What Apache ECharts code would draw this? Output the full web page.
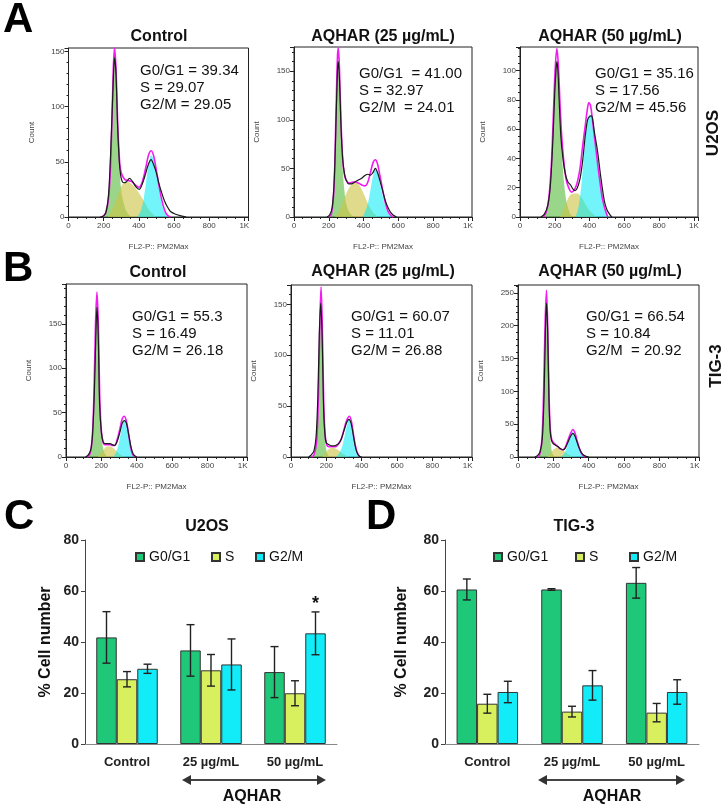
<!DOCTYPE html>
<html><head><meta charset="utf-8">
<script src="https://cdn.jsdelivr.net/npm/echarts@6/dist/echarts.min.js"></script>
<style>html,body{margin:0;padding:0;background:#fff}#c{width:724px;height:806px}</style>
</head><body><div id="c"></div>
<script>
// ---------- Histogram data (FL2-P channel, count) ----------
const histTitles = ['Control', 'AQHAR (25 µg/mL)', 'AQHAR (50 µg/mL)'];
const histStats = [
  ['G0/G1 = 39.34', 'S = 29.07', 'G2/M = 29.05'],
  ['G0/G1  = 41.00', 'S = 32.97', 'G2/M  = 24.01'],
  ['G0/G1 = 35.16', 'S = 17.56', 'G2/M = 45.56'],
  ['G0/G1 = 55.3', 'S = 16.49', 'G2/M = 26.18'],
  ['G0/G1 = 60.07', 'S = 11.01', 'G2/M = 26.88'],
  ['G0/G1 = 66.54', 'S = 10.84', 'G2/M  = 20.92']
];
const histYMax = [153, 175, 116, 195, 169, 262];
const histYStep = [50, 50, 20, 50, 50, 50];
const xTicks = ['0', '200', '400', '600', '800', '1K'];

// U2OS control
const u2osCtrlHist = [[180,0],[200,1],[215,5],[230,25],[245,80],[255,125],[262,144],[270,130],[280,80],[290,48],[300,35],[315,31],[330,32],[347,35],[365,32],[385,27],[403,25],[420,30],[440,40],[455,48],[470,52],[485,47],[500,40],[515,30],[530,22],[545,15],[560,10],[580,5],[610,2.5],[640,1],[670,0]];
const u2osCtrlFit = [[190,0],[210,3],[230,20],[245,75],[255,135],[262,153],[270,135],[280,85],[290,52],[300,40],[320,34],[340,33],[360,32],[380,29],[400,27],[420,32],[440,45],[455,56],[470,60],[485,55],[500,42],[515,28],[530,16],[545,7],[560,2],[580,0]];
const u2osCtrlG1 = [[200,0],[215,5],[230,25],[245,75],[255,125],[262,140],[270,125],[280,80],[290,45],[300,24],[315,12],[330,5],[350,1],[365,0]];
const u2osCtrlS = [[225,0],[245,6],[270,15],[290,24],[310,30],[330,32],[350,31],[370,28],[400,22],[430,14],[460,6],[490,1],[505,0]];
const u2osCtrlG2 = [[390,0],[410,5],[425,14],[440,30],[455,47],[470,56],[485,52],[500,40],[515,25],[530,13],[545,5],[560,1],[575,0]];
// U2OS 25 µg/mL
const u2os25Hist = [[190,0],[205,2],[220,10],[232,40],[242,100],[250,150],[255,160],[262,140],[270,95],[280,60],[290,45],[300,38],[315,34],[330,34],[350,36],[370,38],[390,40],[410,43],[425,44],[440,43],[455,46],[468,50],[480,46],[495,37],[510,27],[525,17],[540,10],[555,5],[570,2],[590,0]];
const u2os25Fit = [[200,0],[215,3],[230,30],[242,110],[250,165],[255,174],[262,150],[270,100],[280,60],[290,44],[300,38],[320,35],[340,36],[355,36],[370,35],[390,33],[410,32],[425,36],[440,46],[455,56],[468,59],[480,55],[495,42],[510,28],[525,15],[540,6],[555,2],[570,0]];
const u2os25G1 = [[205,0],[220,8],[232,35],[242,100],[250,150],[255,160],[262,140],[270,90],[280,50],[290,27],[300,14],[315,6],[330,2],[350,0]];
const u2os25S = [[235,0],[260,6],[280,15],[300,24],[320,31],[340,35],[355,36],[370,34],[390,28],[410,20],[430,12],[450,6],[470,2],[490,0]];
const u2os25G2 = [[395,0],[410,6],[425,14],[440,28],[455,43],[468,50],[480,46],[495,34],[510,22],[525,11],[540,4],[555,1],[565,0]];
// U2OS 50 µg/mL
const u2os50Hist = [[120,0],[140,2],[160,8],[175,22],[190,55],[200,85],[207,100],[212,106],[218,100],[225,80],[235,55],[247,40],[260,30],[275,24],[290,22],[305,19],[317,18],[330,20],[345,26],[360,38],[375,55],[388,66],[396,68],[408,69],[416,68],[428,58],[446,45],[465,27],[485,11],[500,5],[515,2],[528,0]];
const u2os50Fit = [[135,0],[150,3],[165,12],[180,35],[192,70],[202,100],[212,115],[220,105],[230,78],[240,55],[252,38],[265,26],[280,20],[297,17],[315,19],[330,24],[345,33],[360,48],[375,62],[388,74],[396,78],[406,76],[418,65],[430,53],[445,38],[460,24],[475,12],[490,5],[505,0]];
const u2os50G1 = [[140,0],[155,5],[170,18],[185,50],[198,85],[207,102],[212,106],[220,95],[230,70],[240,45],[252,25],[265,12],[280,5],[295,1],[310,0]];
const u2os50S = [[230,0],[250,5],[270,11],[290,15],[310,16],[330,16],[350,14],[370,10],[390,6],[410,3],[430,1],[445,0]];
const u2os50G2 = [[320,0],[335,6],[350,18],[365,38],[380,58],[392,68],[400,70],[410,68],[422,58],[435,45],[450,32],[465,20],[480,10],[495,3],[510,0]];
// TIG-3 control
const tigCtrlHist = [[110,0],[125,2],[140,8],[150,25],[160,70],[168,130],[175,169],[182,140],[190,60],[200,28],[210,17],[222,15],[235,15],[250,15],[262,14],[275,13],[290,18],[305,28],[318,38],[330,41],[342,38],[355,25],[365,14],[375,6],[385,2],[400,0]];
const tigCtrlFit = [[120,0],[135,3],[148,20],[158,70],[167,150],[175,186],[183,150],[190,75],[198,35],[208,18],[220,14],[235,14],[250,14],[262,13],[275,13],[290,20],[305,32],[318,43],[330,46],[342,40],[355,25],[365,12],[375,4],[388,0]];
const tigCtrlG1 = [[125,0],[140,5],[150,22],[160,70],[168,140],[175,169],[182,140],[190,65],[200,25],[212,8],[225,2],[240,0]];
const tigCtrlS = [[180,0],[200,5],[220,10],[240,12],[260,11],[280,8],[300,4],[320,1],[335,0]];
const tigCtrlG2 = [[265,0],[280,4],[295,12],[308,25],[320,37],[330,42],[340,38],[352,27],[362,15],[372,6],[382,1],[392,0]];
// TIG-3 25 µg/mL
const tig25Hist = [[100,0],[115,2],[130,6],[142,20],[152,60],[160,120],[168,151],[176,120],[184,50],[192,22],[200,14],[215,12],[230,11],[245,11],[260,12],[273,14],[285,18],[300,26],[315,34],[328,37],[340,33],[352,22],[362,12],[372,5],[385,1],[400,0]];
const tig25Fit = [[115,0],[130,2],[145,15],[155,60],[163,130],[170,167],[177,130],[185,55],[193,22],[202,12],[215,10],[230,10],[245,10],[260,11],[273,14],[285,18],[300,27],[315,36],[331,40],[343,34],[355,20],[367,9],[378,3],[390,0]];
const tig25G1 = [[120,0],[135,3],[147,18],[157,65],[165,135],[170,151],[177,125],[185,50],[193,18],[202,5],[215,1],[225,0]];
const tig25S = [[175,0],[195,4],[215,8],[235,9],[255,8],[275,6],[295,3],[315,1],[330,0]];
const tig25G2 = [[255,0],[270,3],[285,8],[300,18],[315,30],[330,37],[342,33],[354,21],[365,10],[375,4],[385,1],[395,0]];
// TIG-3 50 µg/mL
const tig50Hist = [[95,0],[110,2],[125,8],[138,30],[148,100],[155,190],[161,234],[168,190],[175,90],[182,40],[190,25],[200,20],[212,18],[225,16],[240,13],[255,11],[268,14],[282,22],[296,31],[310,36],[322,32],[335,22],[346,14],[358,7],[370,3],[385,1],[400,0]];
const tig50Fit = [[110,0],[122,3],[135,25],[145,100],[153,200],[161,254],[168,200],[175,100],[182,45],[190,27],[200,22],[212,19],[225,16],[240,12],[255,11],[268,15],[282,25],[296,35],[311,42],[323,36],[335,24],[346,14],[358,6],[370,2],[380,0]];
const tig50G1 = [[115,0],[128,6],[140,35],[148,110],[155,200],[161,234],[168,190],[175,90],[182,35],[190,10],[200,3],[212,0]];
const tig50S = [[165,0],[185,6],[205,12],[225,14],[245,12],[265,8],[285,4],[305,1],[320,0]];
const tig50G2 = [[240,0],[255,3],[270,10],[285,22],[298,33],[311,38],[323,34],[335,24],[346,14],[358,6],[370,2],[382,0]];

// ---------- Bar chart data (% cell number, mean ± error) ----------
const barCategories = ['Control', '25 µg/mL', '50 µg/mL'];
const phaseNames = ['G0/G1', 'S', 'G2/M'];
const u2osG1 = [41.8, 36.7, 28.2];  const u2osG1Err = [10.1, 10.1, 10.0];
const u2osS = [25.4, 28.9, 19.9];   const u2osSErr = [3.0, 6.2, 4.9];
const u2osG2 = [29.5, 31.2, 43.4];  const u2osG2Err = [1.8, 10.0, 8.4];
const tigG1 = [60.6, 60.6, 63.2];   const tigG1Err = [4.1, 0.3, 6.0];
const tigS = [15.8, 12.7, 12.3];    const tigSErr = [3.7, 2.1, 3.6];
const tigG2 = [20.4, 23.0, 20.4];   const tigG2Err = [4.2, 5.8, 4.8];
const u2osSignif = [[2, 2, '*']]; // [category, phase, mark]

// ---------- layout / style ----------
const FONT = '"Liberation Sans", Arial, Helvetica, sans-serif';
const histSets = [
  [u2osCtrlHist, u2osCtrlFit, u2osCtrlG1, u2osCtrlS, u2osCtrlG2],
  [u2os25Hist, u2os25Fit, u2os25G1, u2os25S, u2os25G2],
  [u2os50Hist, u2os50Fit, u2os50G1, u2os50S, u2os50G2],
  [tigCtrlHist, tigCtrlFit, tigCtrlG1, tigCtrlS, tigCtrlG2],
  [tig25Hist, tig25Fit, tig25G1, tig25S, tig25G2],
  [tig50Hist, tig50Fit, tig50G1, tig50S, tig50G2]
];
const histGrids = [
  {left: 68.5, top: 48, width: 180, height: 169},
  {left: 294, top: 47, width: 178, height: 170},
  {left: 520, top: 47, width: 178, height: 170},
  {left: 66, top: 284, width: 181, height: 173},
  {left: 291, top: 285, width: 181, height: 172},
  {left: 518, top: 285, width: 181, height: 172}
];
const titlePos = [[159, 37], [383, 37], [610, 37], [158, 273], [383, 272], [610, 272]];
const statPos = [[140, 62.5], [359, 65.5], [595, 65.5], [132, 308.5], [351, 308.5], [586, 308.5]];
const fillColors = ['rgba(70,180,40,0.55)', 'rgba(205,195,70,0.62)', 'rgba(0,235,245,0.55)'];
const barColors = ['#1ec878', '#d8f05e', '#12ecf8'];
const BAR_W = 20.5, CAP = 4;

const grids = [], xAxes = [], yAxes = [], series = [], titles = [];
histGrids.forEach((g, i) => {
  grids.push(Object.assign({show: true, borderColor: '#222', borderWidth: 1, containLabel: false}, g));
  xAxes.push({type: 'value', gridIndex: i, min: 0, max: 1024, interval: 200,
    axisLine: {show: true, lineStyle: {color: '#222', width: 1}},
    axisTick: {show: true, length: 4, lineStyle: {color: '#222'}},
    minorTick: {show: true, splitNumber: 4, length: 2, lineStyle: {color: '#222'}},
    splitLine: {show: false}, minorSplitLine: {show: false},
    axisLabel: {fontSize: 8, color: '#444', fontFamily: FONT, margin: 5, showMaxLabel: false,
      formatter: v => xTicks[Math.round(v / 200)] || ''},
    name: 'FL2-P:: PM2Max', nameLocation: 'middle', nameGap: 26,
    nameTextStyle: {fontSize: 8, color: '#444', fontFamily: FONT}});
  yAxes.push({type: 'value', gridIndex: i, min: 0, max: histYMax[i], interval: histYStep[i],
    axisLine: {show: true, lineStyle: {color: '#222', width: 1}},
    axisTick: {show: true, length: 4, lineStyle: {color: '#222'}},
    minorTick: {show: true, splitNumber: histYStep[i] === 50 ? 5 : 4, length: 2, lineStyle: {color: '#222'}},
    splitLine: {show: false}, minorSplitLine: {show: false},
    axisLabel: {fontSize: 8, color: '#444', fontFamily: FONT, margin: 4, showMaxLabel: false},
    name: 'Count', nameLocation: 'middle', nameGap: 33,
    nameTextStyle: {fontSize: 8, color: '#444', fontFamily: FONT}});
  const [hist, fit, g1, s, g2] = histSets[i];
  [g1, s, g2].forEach((d, k) => series.push({type: 'line', xAxisIndex: i, yAxisIndex: i, data: d,
    smooth: 0.35, showSymbol: false, silent: true, lineStyle: {width: 0},
    areaStyle: {color: fillColors[k], opacity: 1}, z: 2}));
  series.push({type: 'line', xAxisIndex: i, yAxisIndex: i, data: fit, smooth: 0.35, showSymbol: false,
    silent: true, lineStyle: {color: '#f01cf0', width: 1.6}, z: 3});
  series.push({type: 'line', xAxisIndex: i, yAxisIndex: i, data: hist, smooth: 0.3, showSymbol: false,
    silent: true, lineStyle: {color: '#1a1a1a', width: 1.2}, z: 4});
  titles.push({text: histTitles[i % 3], left: titlePos[i][0], top: titlePos[i][1], padding: 0,
    textAlign: 'center', textVerticalAlign: 'middle',
    textStyle: {fontFamily: FONT, fontSize: 16, fontWeight: 'bold', color: '#111'}});
  titles.push({text: histStats[i].join('\n'), left: statPos[i][0], top: statPos[i][1], padding: 0,
    textAlign: 'left', textVerticalAlign: 'top',
    textStyle: {fontFamily: FONT, fontSize: 15, fontWeight: 'normal', color: '#111', lineHeight: 17}});
});

// bar charts
const barGrids = [{left: 85, top: 540, width: 252, height: 204}, {left: 445, top: 540, width: 254, height: 204}];
const barSets = [
  {vals: [u2osG1, u2osS, u2osG2], errs: [u2osG1Err, u2osSErr, u2osG2Err], title: 'U2OS', tx: 207, nameGap: 31},
  {vals: [tigG1, tigS, tigG2], errs: [tigG1Err, tigSErr, tigG2Err], title: 'TIG-3', tx: 574, nameGap: 35}
];
barGrids.forEach((g, j) => {
  const gi = 6 + j;
  grids.push(Object.assign({show: false}, g));
  xAxes.push({type: 'category', gridIndex: gi, data: barCategories,
    axisLine: {show: true, lineStyle: {color: '#888', width: 1}}, axisTick: {show: false},
    axisLabel: {fontFamily: FONT, fontSize: 13, fontWeight: 'bold', color: '#222', margin: 12}});
  yAxes.push({type: 'value', gridIndex: gi, min: 0, max: 80, interval: 20,
    axisLine: {show: true, lineStyle: {color: '#444', width: 1}},
    axisTick: {show: true, length: 4, lineStyle: {color: '#444'}},
    splitLine: {show: false},
    axisLabel: {fontFamily: FONT, fontSize: 14, fontWeight: 'bold', color: '#222', margin: 6},
    name: '% Cell number', nameLocation: 'middle', nameGap: barSets[j].nameGap,
    nameTextStyle: {fontFamily: FONT, fontSize: 16, fontWeight: 'bold', color: '#111'}});
  const set = barSets[j];
  phaseNames.forEach((p, k) => series.push({type: 'bar', name: p, xAxisIndex: gi, yAxisIndex: gi,
    data: set.vals[k], barWidth: BAR_W, barGap: '0%',
    itemStyle: {color: barColors[k], borderColor: '#333', borderWidth: 1}}));
  const errData = [];
  for (let c = 0; c < 3; c++) for (let k = 0; k < 3; k++) errData.push([c, k, set.vals[k][c], set.errs[k][c]]);
  series.push({type: 'custom', xAxisIndex: gi, yAxisIndex: gi, data: errData, silent: true, z: 5,
    encode: {x: 0, y: 2},
    renderItem: function (params, api) {
      const c = api.value(0), k = api.value(1), m = api.value(2), e = api.value(3);
      const x = api.coord([c, m])[0] + (k - 1) * BAR_W;
      const yt = api.coord([c, m + e])[1], yb = api.coord([c, m - e])[1];
      const st = {stroke: '#222', lineWidth: 1.4};
      return {type: 'group', children: [
        {type: 'line', shape: {x1: x, y1: yt, x2: x, y2: yb}, style: st},
        {type: 'line', shape: {x1: x - CAP, y1: yt, x2: x + CAP, y2: yt}, style: st},
        {type: 'line', shape: {x1: x - CAP, y1: yb, x2: x + CAP, y2: yb}, style: st}]};
    }});
  titles.push({text: set.title, left: set.tx, top: 527, padding: 0, textAlign: 'center', textVerticalAlign: 'middle',
    textStyle: {fontFamily: FONT, fontSize: 16, fontWeight: 'bold', color: '#111'}});
});
// significance mark
series.push({type: 'custom', xAxisIndex: 6, yAxisIndex: 6, silent: true, z: 6,
  data: u2osSignif.map(d => [d[0], d[1], u2osG2[d[0]] + u2osG2Err[d[0]], d[2]]),
  encode: {x: 0, y: 2},
  renderItem: function (params, api) {
    const c = api.value(0), k = api.value(1), top = api.value(2);
    const p = api.coord([c, top]);
    return {type: 'text', x: p[0] + (k - 1) * BAR_W, y: p[1] - 8,
      style: {text: '*', font: 'bold 18px ' + FONT, fill: '#111', align: 'center', verticalAlign: 'middle',
        textAlign: 'center', textVerticalAlign: 'middle'}};
  }});

// panel letters
[['A', 3, 20], ['B', 3, 269], ['C', 4, 517], ['D', 366, 517]].forEach(l => titles.push({text: l[0], left: l[1], top: l[2],
  padding: 0, textAlign: 'left', textVerticalAlign: 'middle',
  textStyle: {fontFamily: FONT, fontSize: 42, fontWeight: 900, color: '#000'}}));
// AQHAR under bar charts
[[252, 797], [612, 797]].forEach(p => titles.push({text: 'AQHAR', left: p[0], top: p[1], padding: 0,
  textAlign: 'center', textVerticalAlign: 'middle',
  textStyle: {fontFamily: FONT, fontSize: 16, fontWeight: 'bold', color: '#111'}}));

// legends (one per item to follow the reference spacing)
const legendPos = [[135, 211, 255], [493, 575, 629]];
const legends = [];
legendPos.forEach(row => row.forEach((x, k) => legends.push({data: [phaseNames[k]], left: x, top: 550,
  itemWidth: 8, itemHeight: 8, icon: 'rect', selectedMode: false, padding: 0,
  textStyle: {fontFamily: FONT, fontSize: 14, color: '#111'}})));

function arrow(x1, x2, y) {
  const h = 9, w = 5, st = {fill: '#333'};
  return [
    {type: 'line', shape: {x1: x1 + h - 1, y1: y, x2: x2 - h + 1, y2: y}, style: {stroke: '#444', lineWidth: 1.8}},
    {type: 'polygon', shape: {points: [[x1, y], [x1 + h, y - w], [x1 + h, y + w]]}, style: st},
    {type: 'polygon', shape: {points: [[x2, y], [x2 - h, y - w], [x2 - h, y + w]]}, style: st}
  ];
}
const graphics = [].concat(arrow(182, 326, 780), arrow(538, 685, 780));
[['U2OS', 713, 133], ['TIG-3', 716, 366]].forEach(r => graphics.push({type: 'text', x: r[1], y: r[2], rotation: Math.PI / 2,
  style: {text: r[0], font: 'bold 17px ' + FONT, fill: '#111', align: 'center', verticalAlign: 'middle',
    textAlign: 'center', textVerticalAlign: 'middle'}}));

const chart = echarts.init(document.getElementById('c'), null, {renderer: 'canvas', width: 724, height: 806});
chart.setOption({
  animation: false, backgroundColor: '#fff',
  title: titles, legend: legends, grid: grids, xAxis: xAxes, yAxis: yAxes, series: series,
  graphic: {elements: graphics}
});
</script></body></html>
